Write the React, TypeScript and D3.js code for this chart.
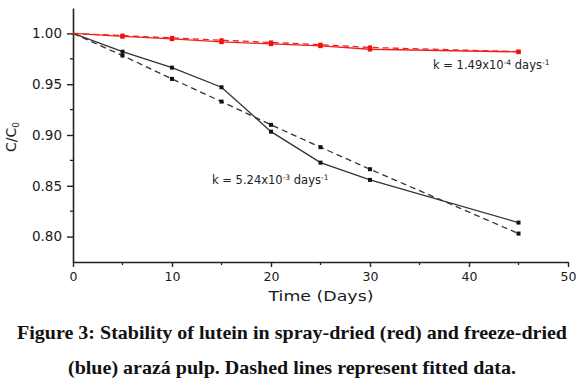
import React, { useEffect, useRef } from 'react';
import * as d3 from 'd3';

const days = [0, 5, 10, 15, 20, 25, 30, 45];
const sprayMeasured = [1.0, 0.997, 0.9946, 0.9916, 0.9897, 0.9877, 0.9844, 0.9818];
const sprayFitted = [1.0, 0.9978, 0.9956, 0.9933, 0.9911, 0.9889, 0.9862, 0.982];
const freezeMeasured = [1.0, 0.982, 0.9663, 0.947, 0.9033, 0.8728, 0.8558, 0.8138];
const freezeFitted = [1.0, 0.9782, 0.9552, 0.9329, 0.91, 0.888, 0.8663, 0.803];

const xMajor = [0, 10, 20, 30, 40, 50];
const xMinor = [5, 15, 25, 35, 45];
const yMajor = [0.8, 0.85, 0.9, 0.95, 1.0];
const yMinor = [0.825, 0.875, 0.925, 0.975];

const App = () => {
  const ref = useRef<SVGSVGElement>(null);

  useEffect(() => {
    const svg = d3.select(ref.current);
    svg.selectAll('*').remove();

    const x = d3.scaleLinear().domain([0, 50]).range([73, 568]);
    const y = d3.scaleLinear().domain([0.775, 1.025]).range([262, 8]);
    const font = 'DejaVu Sans, Arial, sans-serif';

    // axes
    const xAxis = svg.append('g').attr('transform', 'translate(0,262)')
      .call(d3.axisBottom(x).tickValues(xMajor).tickSize(5).tickSizeOuter(0).tickPadding(5).tickFormat(d3.format('d')));
    const yAxis = svg.append('g').attr('transform', 'translate(73,0)')
      .call(d3.axisLeft(y).tickValues(yMajor).tickSize(6).tickSizeOuter(0).tickPadding(5).tickFormat(d3.format('.2f')));
    [xAxis, yAxis].forEach(a => {
      a.select('.domain').attr('stroke', '#222').attr('stroke-width', 1.6);
      a.selectAll('.tick line').attr('stroke', '#222').attr('stroke-width', 1.4);
      a.selectAll('text').attr('font-family', font).attr('font-size', 13.5).attr('fill', '#1a1a1a');
    });
    xAxis.selectAll('text').attr('font-size', 12.5);

    svg.append('g').selectAll('line').data(xMinor).join('line')
      .attr('x1', d => x(d)).attr('x2', d => x(d)).attr('y1', 262).attr('y2', 265)
      .attr('stroke', '#222').attr('stroke-width', 1.3);
    svg.append('g').selectAll('line').data(yMinor).join('line')
      .attr('y1', d => y(d)).attr('y2', d => y(d)).attr('x1', 73).attr('x2', 70)
      .attr('stroke', '#222').attr('stroke-width', 1.3);

    const line = d3.line<number>().x((d, i) => x(days[i])).y(d => y(d));

    const series = [
      { values: freezeFitted, color: '#333', dash: '6,4', size: 4 },
      { values: freezeMeasured, color: '#333', dash: null, size: 4 },
      { values: sprayFitted, color: '#f02020', dash: '6,4', size: 4 },
      { values: sprayMeasured, color: '#f02020', dash: null, size: 4.5 },
    ];
    series.forEach(s => {
      svg.append('path').datum(s.values)
        .attr('fill', 'none').attr('stroke', s.color).attr('stroke-width', 1.3)
        .attr('stroke-dasharray', s.dash)
        .attr('d', line);
      svg.append('g').selectAll('rect').data(s.values.slice(1)).join('rect')
        .attr('x', (d, i) => x(days[i + 1]) - s.size / 2)
        .attr('y', d => y(d) - s.size / 2)
        .attr('width', s.size).attr('height', s.size)
        .attr('fill', s.color === '#333' ? '#111' : '#f01010');
    });

    // axis titles
    svg.append('text').attr('x', 321).attr('y', 301).attr('text-anchor', 'middle')
      .attr('font-family', font).attr('font-size', 13.5).attr('fill', '#1a1a1a')
      .attr('textLength', 105).attr('lengthAdjust', 'spacingAndGlyphs')
      .text('Time (Days)');
    const yl = svg.append('text').attr('transform', 'translate(16,137) rotate(-90)')
      .attr('text-anchor', 'middle').attr('font-family', font).attr('font-size', 14).attr('fill', '#1a1a1a');
    yl.append('tspan').text('C/C');
    yl.append('tspan').attr('font-size', 9).attr('dy', 3).text('0');

    // rate constant labels
    const kLabel = (x0: number, y0: number, mant: string, exp: string) => {
      const t = svg.append('text').attr('x', x0).attr('y', y0)
        .attr('font-family', font).attr('font-size', 11.5).attr('fill', '#222');
      t.append('tspan').text(`k = ${mant}x10`);
      t.append('tspan').attr('font-size', 7.5).attr('dy', -4).text(exp);
      t.append('tspan').attr('font-size', 11.5).attr('dy', 4).text(' days');
      t.append('tspan').attr('font-size', 7.5).attr('dy', -4).text('-1');
    };
    kLabel(433, 69, '1.49', '-4');
    kLabel(212, 184, '5.24', '-3');

    // caption
    const cap = ['Figure 3: Stability of lutein in spray-dried (red) and freeze-dried',
      '(blue) arazá pulp. Dashed lines represent fitted data.'];
    const capW = [550, 448];
    cap.forEach((c, i) => {
      svg.append('text').attr('x', 292).attr('y', 339 + i * 35).attr('text-anchor', 'middle')
        .attr('font-family', 'Liberation Serif, Times New Roman, serif').attr('font-weight', 'bold')
        .attr('font-size', 19.5).attr('fill', '#111')
        .attr('textLength', capW[i]).attr('lengthAdjust', 'spacingAndGlyphs')
        .text(c);
    });
  }, []);

  return (
    <svg ref={ref} width={584} height={385}
      style={{ position: 'absolute', left: 0, top: 0, background: '#fff' }} />
  );
};

export default App;
